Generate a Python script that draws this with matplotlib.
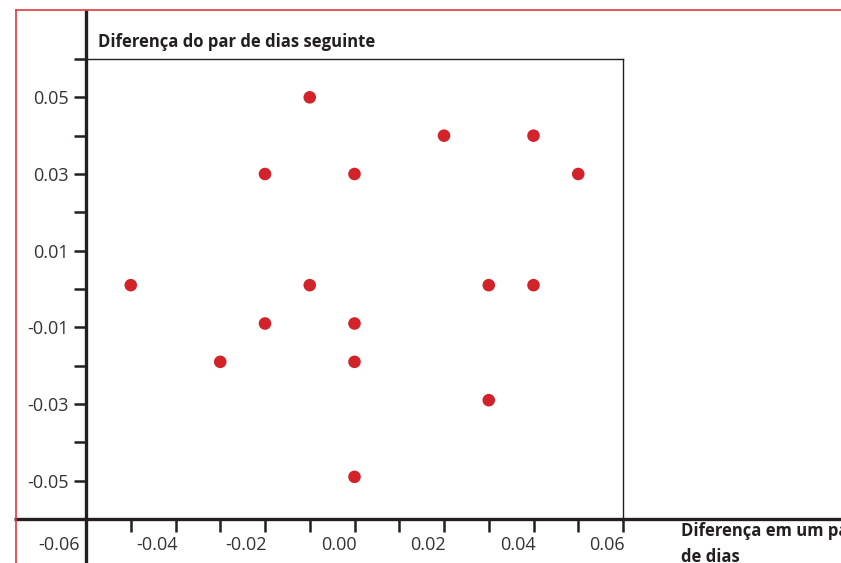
import matplotlib
matplotlib.use("Agg")
import matplotlib.pyplot as plt
from matplotlib.lines import Line2D
from matplotlib.transforms import ScaledTranslation

# Data
x_vals = [-0.01, 0.02, 0.04, -0.02, 0.00, 0.05, -0.05, -0.01, 0.03, 0.04,
          -0.02, 0.00, -0.03, 0.00, 0.03, 0.00]
y_vals = [0.05, 0.04, 0.04, 0.03, 0.03, 0.03, 0.001, 0.001, 0.001, 0.001,
          -0.009, -0.009, -0.019, -0.019, -0.029, -0.049]

x_ticks = [-0.06, -0.05, -0.04, -0.03, -0.02, -0.01, 0.00, 0.01, 0.02, 0.03, 0.04, 0.05, 0.06]
x_tick_labels = ["-0.06", "", "-0.04", "", "-0.02", "", "0.00", "", "0.02", "", "0.04", "", "0.06"]
y_ticks = [-0.05, -0.04, -0.03, -0.02, -0.01, 0.00, 0.01, 0.02, 0.03, 0.04, 0.05, 0.06]
y_tick_labels = ["-0.05", "", "-0.03", "", "-0.01", "", "0.01", "", "0.03", "", "0.05", ""]

title_text = "Diferença do par de dias seguinte"
xlabel_text = "Diferença em um par\nde dias"

FONT = "Open Sans"
RED = "#d2232a"
FRAME_RED = "#e0393e"
DARK = "#231f20"
TXT = "#333333"

W, H = 841, 563
fig = plt.figure(figsize=(W / 100, H / 100), dpi=100)
fig.patch.set_facecolor("white")

# axes placement (pixels)
L, R, T, B = 86, 623, 59, 519
ax = fig.add_axes([L / W, 1 - B / H, (R - L) / W, (B - T) / H])
ax.set_xlim(-0.06, 0.06)
ax.set_ylim(-0.06, 0.06)

ax.scatter(x_vals, y_vals, s=82, color=RED, edgecolors="none", zorder=3)

# spines
for s in ["left", "bottom"]:
    ax.spines[s].set_visible(False)
for s in ["top", "right"]:
    ax.spines[s].set_linewidth(1.0)
    ax.spines[s].set_color(DARK)

# thick axis lines extending beyond the box
px_x = 1 / (R - L)
px_y = 1 / (B - T)
ax.add_line(Line2D([(14 - L) * px_x, (W + 5 - L) * px_x], [0, 0], transform=ax.transAxes,
                   color=DARK, lw=2.4, clip_on=False, zorder=4, solid_capstyle="butt"))
ax.add_line(Line2D([0, 0], [(B - 10) * px_y, (B - H - 5) * px_y], transform=ax.transAxes,
                   color=DARK, lw=2.4, clip_on=False, zorder=4, solid_capstyle="butt"))

ax.set_xticks(x_ticks)
ax.set_xticklabels(x_tick_labels)
ax.set_yticks(y_ticks)
ax.set_yticklabels(y_tick_labels)
ax.tick_params(axis="both", direction="out", length=9, width=1.8, color=DARK,
               labelsize=13, labelcolor=TXT)
ax.tick_params(axis="x", pad=3)
ax.tick_params(axis="y", pad=3.5)
shift = ScaledTranslation(2 / 100, 0, fig.dpi_scale_trans)
shift_first = ScaledTranslation(-6 / 100, 0, fig.dpi_scale_trans)
for i, lab in enumerate(ax.get_xticklabels()):
    lab.set_horizontalalignment("right")
    lab.set_fontfamily(FONT)
    lab.set_transform(lab.get_transform() + (shift_first if i == 0 else shift))
for lab in ax.get_yticklabels():
    lab.set_fontfamily(FONT)

# title and x label
ax.text((98 - L) * px_x, (B - 47) * px_y, title_text, transform=ax.transAxes,
        fontsize=12, fontweight="bold", family=FONT, color=DARK, va="baseline", ha="left")
ax.text((681 - L) * px_x, (B - 522) * px_y, xlabel_text, transform=ax.transAxes,
        fontsize=12, fontweight="bold", family=FONT, color=DARK, va="top", ha="left",
        linespacing=1.6, clip_on=False)

# red frame lines
fig.add_artist(Line2D([16 / W, 16 / W], [1 - 10 / H, 0], transform=fig.transFigure,
                      color=FRAME_RED, lw=1.2))
fig.add_artist(Line2D([16 / W, 1], [1 - 10 / H, 1 - 10 / H], transform=fig.transFigure,
                      color=FRAME_RED, lw=1.2))

fig.savefig("out.png", dpi=100)
